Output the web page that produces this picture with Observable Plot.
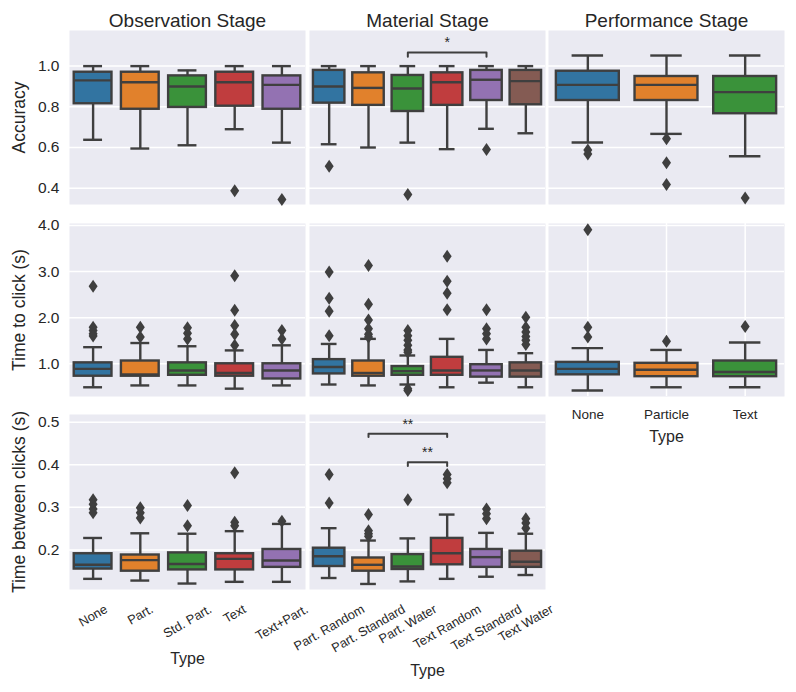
<!DOCTYPE html>
<html><head><meta charset="utf-8">
<script src="https://cdn.jsdelivr.net/npm/d3@7"></script>
<script src="https://cdn.jsdelivr.net/npm/@observablehq/plot@0.6"></script>
<style>
body{margin:0;background:#fff;}
#chart{position:relative;width:796px;height:692px;}
#chart svg{position:absolute;}
</style></head><body><div id="chart"></div>
<script>
// ---------- categories & text ----------
const obsTypes = ["None", "Part.", "Std. Part.", "Text", "Text+Part."];
const matTypes = ["Part. Random", "Part. Standard", "Part. Water", "Text Random", "Text Standard", "Text Water"];
const perfTypes = ["None", "Particle", "Text"];
const stageTitles = ["Observation Stage", "Material Stage", "Performance Stage"];
const metricLabels = ["Accuracy", "Time to click (s)", "Time between clicks (s)"];
const xTitle = "Type";
const colors = ["#3274a1", "#e1812c", "#3a923a", "#c03d3e", "#9372b2", "#845b53"];

// ---------- tick values ----------
const accTicks = [0.4, 0.6, 0.8, 1.0];
const clickTicks = [1, 2, 3, 4];
const betweenTicks = [0.2, 0.3, 0.4, 0.5];

// ---------- box stats: [low whisker, q1, median, q3, high whisker] ----------
const accObs = [[0.638,0.815,0.930,0.970,1.0],[0.595,0.788,0.921,0.970,1.0],[0.611,0.797,0.900,0.952,0.979],[0.690,0.803,0.921,0.970,1.0],[0.624,0.788,0.908,0.952,1.0]];
const accObsOut = [[],[],[],[0.388],[0.344]];
const accMat = [[0.616,0.818,0.900,0.979,1.0],[0.600,0.807,0.893,0.967,1.0],[0.624,0.777,0.890,0.954,1.0],[0.592,0.807,0.921,0.967,1.0],[0.692,0.831,0.933,0.979,1.0],[0.670,0.810,0.926,0.979,1.0]];
const accMatOut = [[0.508],[],[0.369],[],[0.590],[]];
const accPerf = [[0.625,0.831,0.908,0.975,1.052],[0.667,0.831,0.908,0.949,1.052],[0.557,0.766,0.872,0.949,1.052]];
const accPerfOut = [[0.588,0.568],[0.643,0.525,0.418],[0.352]];

const clickObs = [[0.49,0.73,0.89,1.02,1.36],[0.53,0.73,0.77,1.06,1.45],[0.53,0.75,0.855,1.02,1.38],[0.46,0.73,0.80,1.0,1.29],[0.53,0.67,0.855,1.0,1.40]];
const clickObsOut = [[2.68,1.79,1.72,1.65,1.60],[1.79,1.58],[1.78,1.66,1.54],[2.91,2.16,1.83,1.64,1.40],[1.72,1.54]];
const clickMat = [[0.55,0.78,0.93,1.09,1.43],[0.53,0.73,0.80,1.06,1.54],[0.55,0.75,0.84,0.94,1.18],[0.49,0.75,0.855,1.14,1.54],[0.59,0.71,0.855,0.98,1.30],[0.49,0.71,0.855,1.02,1.23]];
const clickMatOut = [[2.99,2.42,2.14,1.61],[3.13,2.29,1.95,1.76,1.64,1.58],[1.72,1.61,1.51,1.40,1.30,1.25,0.46,0.42],[3.33,2.79,2.53,2.17],[2.17,1.76,1.65,1.54],[2.01,1.79,1.69,1.59,1.51,1.42]];
const clickPerf = [[0.42,0.76,0.89,1.03,1.34],[0.49,0.72,0.87,1.01,1.30],[0.49,0.72,0.82,1.06,1.46]];
const clickPerfOut = [[3.91,1.79,1.58],[1.49],[1.81]];

const betObs = [[0.132,0.155,0.165,0.191,0.228],[0.128,0.150,0.176,0.188,0.239],[0.121,0.153,0.167,0.193,0.238],[0.125,0.153,0.179,0.191,0.244],[0.125,0.159,0.175,0.201,0.261]];
const betObsOut = [[0.318,0.307,0.296,0.287],[0.299,0.287,0.275],[0.304,0.257],[0.381,0.265,0.257],[0.267]];
const betMat = [[0.134,0.161,0.185,0.204,0.251],[0.120,0.150,0.165,0.181,0.222],[0.126,0.154,0.161,0.189,0.227],[0.132,0.165,0.192,0.227,0.283],[0.137,0.159,0.183,0.201,0.240],[0.141,0.159,0.172,0.197,0.238]];
const betMatOut = [[0.377,0.310],[0.283,0.245,0.238,0.232],[0.318],[0.377,0.367,0.358],[0.296,0.285,0.273],[0.273,0.263,0.251]];

// ---------- significance annotations ----------
const sigAcc = [{from: "Part. Water", to: "Text Standard", y: 1.067, tip: 0.021, label: "*"}];
const sigBetween = [
  {from: "Part. Standard", to: "Text Random", y: 0.473, tip: 0.008, label: "**"},
  {from: "Part. Water", to: "Text Random", y: 0.406, tip: 0.009, label: "**"}
];

// ---------- layout / style ----------
const FONT = '"Liberation Sans", Arial, sans-serif';
const BG = "#eaeaf2", LINE = "#3f3f3f", TEXT = "#262626", LW = 2.4;
const L = {colX: [69, 309, 548], rowY: [30, 223, 414], w: 236, h: [174, 173, 175]};

const rows = [
  {label: metricLabels[0], ticks: accTicks, domain: [0.32, 1.175],
   cols: [[obsTypes, accObs, accObsOut], [matTypes, accMat, accMatOut], [perfTypes, accPerf, accPerfOut]],
   sig: [null, sigAcc, null]},
  {label: metricLabels[1], ticks: clickTicks, domain: [0.29, 4.043],
   cols: [[obsTypes, clickObs, clickObsOut], [matTypes, clickMat, clickMatOut], [perfTypes, clickPerf, clickPerfOut]],
   sig: [null, null, null]},
  {label: metricLabels[2], ticks: betweenTicks, domain: [0.107, 0.518],
   cols: [[obsTypes, betObs, betObsOut], [matTypes, betMat, betMatOut]],
   sig: [null, sigBetween]}
];

const thinDiamond = {
  draw(ctx, size) {
    const r = Math.sqrt(size / Math.PI);
    const w = r * 0.9, h = r * 1.3;
    ctx.moveTo(0, -h); ctx.lineTo(w, 0); ctx.lineTo(0, h); ctx.lineTo(-w, 0); ctx.closePath();
  }
};

const mctx = document.createElement("canvas").getContext("2d");
function textW(s, size) { mctx.font = `${size}px "Liberation Sans"`; return mctx.measureText(s).width; }

const container = document.getElementById("chart");

function drawPanel(r, c) {
  const row = rows[r];
  const [cats, stats, out] = row.cols[c];
  const n = cats.length, W = L.w, H = L.h[r];
  const step = W / n, bw = step * 0.8;
  const boxes = cats.map((cat, i) => ({cat, lo: stats[i][0], q1: stats[i][1], med: stats[i][2], q3: stats[i][3], hi: stats[i][4], color: colors[i]}));
  const fliers = cats.flatMap((cat, i) => out[i].map(v => ({cat, v})));
  const marks = [
    Plot.frame({fill: BG, stroke: "none"}),
    Plot.ruleY(row.ticks, {stroke: "white", strokeWidth: 1.5})
  ];
  if (r === 1 && c === 2) marks.push(Plot.ruleX(cats, {stroke: "white", strokeWidth: 1.5}));
  marks.push(
    Plot.ruleX(boxes, {x: "cat", y1: "q3", y2: "hi", stroke: LINE, strokeWidth: LW}),
    Plot.ruleX(boxes, {x: "cat", y1: "lo", y2: "q1", stroke: LINE, strokeWidth: LW}),
    Plot.barY(boxes, {x: "cat", y1: "q1", y2: "q3", fill: "color", stroke: LINE, strokeWidth: LW}),
    Plot.tickY(boxes, {x: "cat", y: "med", stroke: LINE, strokeWidth: LW}),
    Plot.tickY(boxes, {x: "cat", y: "hi", stroke: LINE, strokeWidth: LW, insetLeft: bw / 4, insetRight: bw / 4}),
    Plot.tickY(boxes, {x: "cat", y: "lo", stroke: LINE, strokeWidth: LW, insetLeft: bw / 4, insetRight: bw / 4}),
    Plot.dot(fliers, {x: "cat", y: "v", r: 5, symbol: thinDiamond, fill: LINE, stroke: "none"})
  );
  // significance brackets
  const sig = row.sig[c];
  if (sig) {
    sig.forEach(s => {
      const pts = [{x: s.from, y: s.y - s.tip}, {x: s.from, y: s.y}, {x: s.to, y: s.y}, {x: s.to, y: s.y - s.tip}];
      marks.push(Plot.line(pts, {x: "x", y: "y", stroke: LINE, strokeWidth: 2}));
      const di = (cats.indexOf(s.to) - cats.indexOf(s.from)) * step / 2;
      marks.push(Plot.text([s], {x: "from", y: "y", text: "label", dx: di, dy: -5, lineAnchor: "bottom", fontSize: 14, fill: TEXT}));
    });
  }
  // y axis + label on the first column
  if (c === 0) {
    marks.push(Plot.axisY(row.ticks, {tickSize: 0, tickPadding: 10, fontSize: 15.5, tickFormat: d3.format(".1f"), label: null, fill: TEXT}));
    marks.push(Plot.text([row.label], {frameAnchor: "left", dx: -50, rotate: -90, fontSize: 17.5, textAnchor: "middle", lineAnchor: "middle", fill: TEXT}));
  }
  // stage titles
  if (r === 0) {
    marks.push(Plot.text([stageTitles[c]], {frameAnchor: "top", dy: -4, lineAnchor: "bottom", fontSize: 19, fill: TEXT}));
  }
  // x axes
  if (r === 1 && c === 2) {
    marks.push(Plot.axisX({tickSize: 0, tickPadding: 13, fontSize: 13.5, label: null, fill: TEXT}));
    marks.push(Plot.text([xTitle], {frameAnchor: "bottom", dy: 40, lineAnchor: "middle", fontSize: 16, fill: TEXT}));
  }
  if (r === 2) {
    const fs = 12.8, pad = 13, hh = fs;
    let maxH = 0;
    cats.forEach(cat => {
      const w = textW(cat, fs);
      const bh = w * 0.5 + hh * 0.866;
      maxH = Math.max(maxH, bh);
      marks.push(Plot.text([cat], {x: d => d, frameAnchor: "bottom", dy: pad + bh / 2, rotate: -30, textAnchor: "middle", lineAnchor: "middle", fontSize: fs, fill: TEXT}));
    });
    marks.push(Plot.text([xTitle], {frameAnchor: "bottom", dy: pad + maxH + 16, lineAnchor: "middle", fontSize: 16, fill: TEXT}));
  }

  const svg = Plot.plot({
    width: W, height: H, margin: 0,
    x: {type: "band", domain: cats, paddingInner: 0.2, paddingOuter: 0.1, round: false, axis: null},
    y: {domain: row.domain, axis: null},
    color: {type: "identity"},
    style: {background: "transparent", overflow: "visible", fontFamily: FONT, color: TEXT},
    marks
  });
  svg.style.left = L.colX[c] + "px";
  svg.style.top = L.rowY[r] + "px";
  svg.style.position = "absolute";
  container.append(svg);
}

rows.forEach((row, r) => row.cols.forEach((_, c) => drawPanel(r, c)));
</script>
</body></html>
